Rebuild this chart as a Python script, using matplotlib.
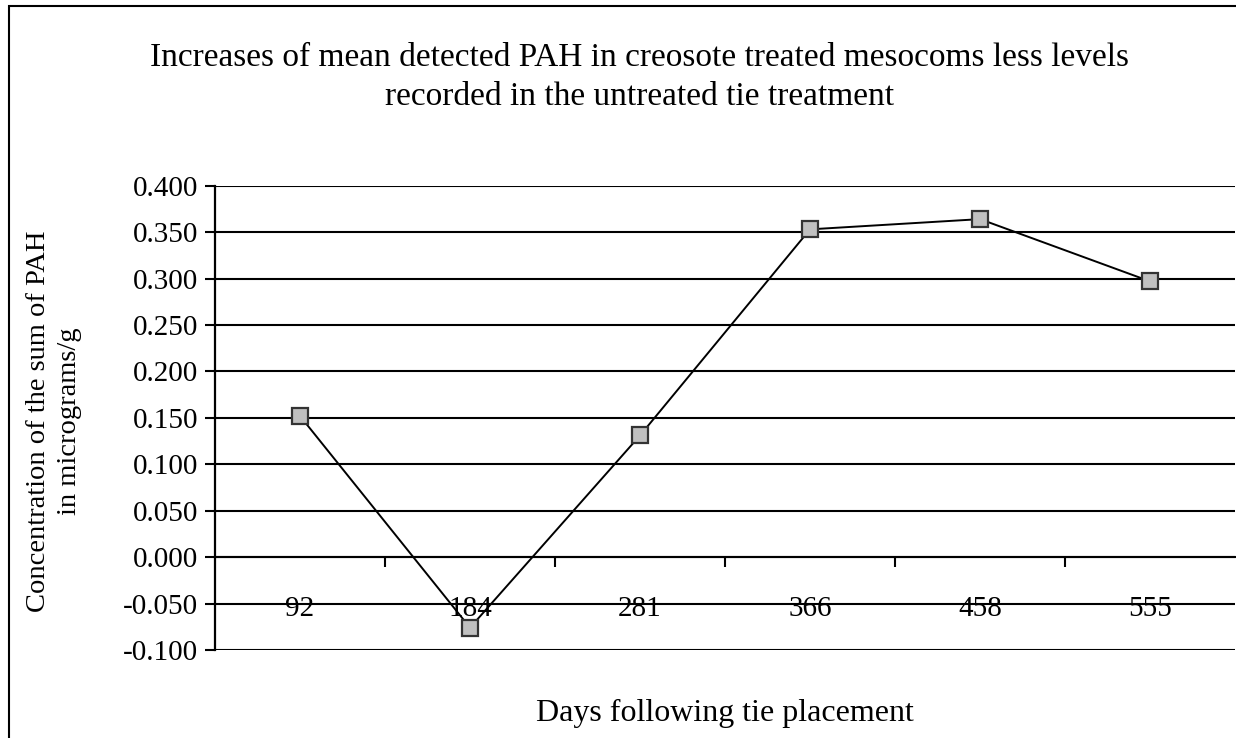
import matplotlib.pyplot as plt
from matplotlib.patches import Rectangle
from matplotlib.ticker import FormatStrFormatter

# Data
days = ['92', '184', '281', '366', '458', '555']
pah_increase = [0.152, -0.076, 0.131, 0.353, 0.364, 0.297]
y_ticks = [-0.100, -0.050, 0.000, 0.050, 0.100, 0.150, 0.200, 0.250, 0.300, 0.350, 0.400]

plt.rcParams['font.family'] = ['Liberation Serif', 'DejaVu Serif']

W, H = 1236, 738
fig = plt.figure(figsize=(W / 100, H / 100), dpi=100)
ax = fig.add_axes([215 / W, 1 - 650 / H, 1020 / W, (650 - 185.7) / H])

x = range(len(days))
ax.plot(x, pah_increase, color='black', linewidth=1.4, marker='s', markersize=11,
        markerfacecolor='#c0c0c0', markeredgecolor='#333333', markeredgewidth=1.6,
        zorder=5, clip_on=False)

ax.set_xlim(-0.5, len(days) - 0.5)
ax.set_ylim(-0.1, 0.4)
ax.set_yticks(y_ticks)
ax.yaxis.set_major_formatter(FormatStrFormatter('%.3f'))
ax.grid(axis='y', color='black', linewidth=1.5)
ax.set_axisbelow(True)

# Category axis crosses at zero
for s in ['top', 'right']:
    ax.spines[s].set_visible(False)
ax.spines['bottom'].set_position(('data', 0))
ax.spines['bottom'].set_linewidth(1.5)
ax.spines['left'].set_linewidth(1.6)
ax.set_xticks(list(x))
ax.set_xticklabels(days)
ax.set_xticks([i + 0.5 for i in range(len(days) - 1)], minor=True)
ax.tick_params(axis='x', which='major', length=0, pad=28, labelsize=21)
ax.tick_params(axis='x', which='minor', length=7, width=1.5, direction='out')
ax.tick_params(axis='y', length=7, width=1.5, direction='out', pad=5, labelsize=21)

ax.set_xlabel('Days following tie placement', fontsize=23)
ax.xaxis.set_label_coords(0.5, -0.105)

fig.text(54 / W, 1 - 421 / H, 'Concentration of the sum of PAH\nin micrograms/g',
         rotation=90, ha='center', va='center', fontsize=20.5, linespacing=1.3)

fig.text(640 / W, 1 - 77 / H,
         'Increases of mean detected PAH in creosote treated mesocoms less levels\nrecorded in the untreated tie treatment',
         ha='center', va='center', fontsize=24, linespacing=1.35)

# chart area border
fig.patches.append(Rectangle((9 / W, -0.05), 1.2, 1.05 - 6 / H, transform=fig.transFigure,
                             fill=False, edgecolor='black', linewidth=1.5))

fig.savefig('out.png', dpi=100)
